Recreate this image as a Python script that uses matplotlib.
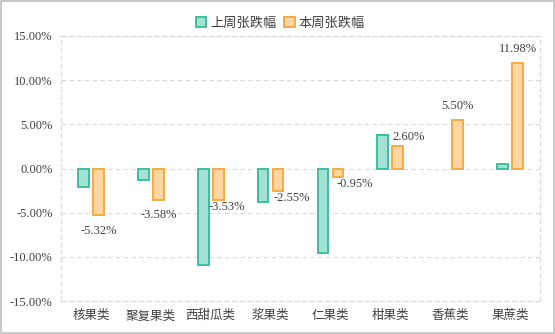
import matplotlib.pyplot as plt
import numpy as np
from matplotlib.ticker import FuncFormatter

# Data (no last-week value shown for 香蕉类)
categories = ["核果类", "聚复果类", "西甜瓜类", "浆果类", "仁果类", "柑果类", "香蕉类", "果蔗类"]
last_week = [-2.10, -1.35, -10.90, -3.80, -9.55, 3.75, np.nan, 0.56]
this_week = [-5.32, -3.58, -3.53, -2.55, -0.95, 2.60, 5.50, 11.98]
series_names = ["上周张跌幅", "本周张跌幅"]

# label offsets (points) for this-week data labels
label_offsets = [(0, -11), (0, -11), (6, -5), (10, -5), (12, -5), (8, 6), (0, 10), (0, 10)]

teal_edge, teal_fill = "#3DBFA0", "#A3E2D2"
orange_edge, orange_fill = "#F6AA44", "#FFD6A0"
text_color = "#404040"

plt.rcParams["font.family"] = ["Noto Sans CJK SC", "DejaVu Sans"]

fig = plt.figure(figsize=(5.55, 3.34), dpi=100)
ax = fig.add_axes([61 / 555, 1 - 301 / 334, 479 / 555, 265 / 334])

x = np.arange(len(categories))
w = 0.18
off = 0.125
ax.bar(x - off, last_week, w, color=teal_fill, edgecolor=teal_edge, linewidth=1.4,
       label=series_names[0], zorder=3)
bars = ax.bar(x + off, this_week, w, color=orange_fill, edgecolor=orange_edge, linewidth=1.4,
              label=series_names[1], zorder=3)

for rect, v, (dx, dy) in zip(bars, this_week, label_offsets):
    y = rect.get_height() if v >= 0 else v
    ax.annotate(f"{v:.2f}%", (rect.get_x() + rect.get_width() / 2, y),
                xytext=(dx, dy), textcoords="offset points", ha="center",
                va="center", fontsize=9, family="Liberation Serif", color=text_color)

ax.set_xlim(-0.5, len(categories) - 0.5)
ax.set_ylim(-15, 15)
ax.set_yticks(np.arange(-15, 15.1, 5))
ax.yaxis.set_major_formatter(FuncFormatter(lambda v, p: f"{v:.2f}%"))
for lab in ax.get_yticklabels():
    lab.set_family("Liberation Serif")
ax.tick_params(axis="y", labelsize=9, colors=text_color, length=0, pad=6)
ax.set_xticks(x)
ax.set_xticklabels(categories)
ax.tick_params(axis="x", labelsize=9, colors=text_color, length=0, pad=6)

ax.grid(axis="y", color="#D9D9D9", linestyle=(0, (4, 3)), linewidth=0.8, zorder=0)
for s in ax.spines.values():
    s.set_color("#D9D9D9")
    s.set_linestyle((0, (4, 3)))
    s.set_linewidth(0.8)

fig.legend(loc="upper center", bbox_to_anchor=(0.505, 0.985), ncol=2, frameon=False,
           fontsize=9.5, handlelength=0.8, handleheight=0.8, handletextpad=0.3,
           columnspacing=0.6, labelcolor=text_color)

# light frame around the whole figure
fig.patches.append(plt.Rectangle((0.001, 0.002), 0.997, 0.995, transform=fig.transFigure,
                                 fill=False, edgecolor="#BFBFBF", linewidth=1.2))

plt.savefig("out.png", dpi=100)
